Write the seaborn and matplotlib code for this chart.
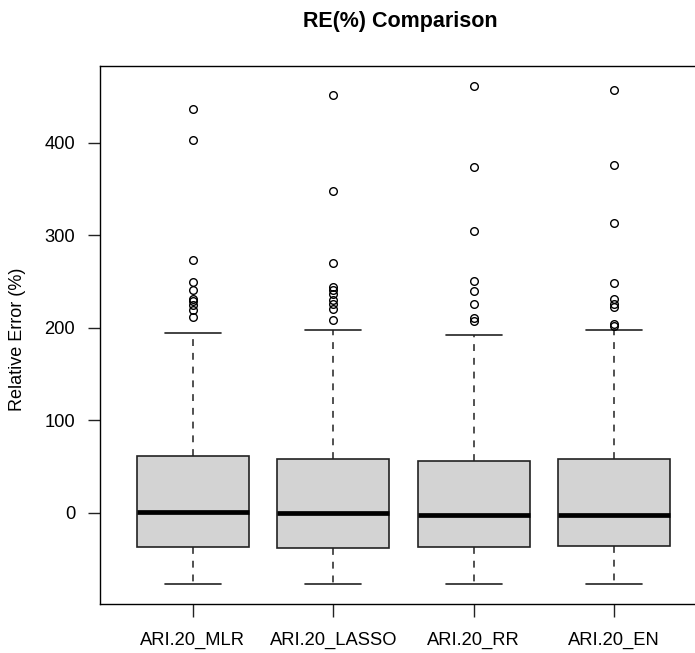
import numpy as np
import pandas as pd
import matplotlib
matplotlib.use("Agg")
import matplotlib.pyplot as plt
import seaborn as sns

# ---- values ----
categories = ["ARI.20_MLR", "ARI.20_LASSO", "ARI.20_RR", "ARI.20_EN"]
whisker_low = [-76.9, -76.9, -76.9, -76.9]
q1 = [-37.0, -38.5, -37.0, -35.6]
median = [1.4, 0.0, -1.8, -1.8]
q3 = [61.8, 58.2, 56.4, 57.9]
whisker_high = [194.5, 198.0, 192.5, 197.3]
outliers_mlr = [436.3, 402.9, 272.8, 249.4, 240.4, 231.5, 228.9, 224.3, 219.6, 211.7]
outliers_lasso = [451.8, 348.2, 269.9, 244.0, 241.2, 236.9, 230.4, 225.3, 220.7, 208.1]
outliers_rr = [461.5, 373.4, 304.4, 250.1, 239.7, 226.1, 210.6, 207.4]
outliers_en = [456.8, 376.3, 313.0, 248.3, 231.5, 226.1, 222.4, 204.5, 202.4]
outliers = [outliers_mlr, outliers_lasso, outliers_rr, outliers_en]
yticks = [0, 100, 200, 300, 400]

# Build samples that reproduce the read summary statistics exactly
B = 100
rows = []
for i, cat in enumerate(categories):
    vals = ([whisker_low[i]] + [q1[i]] * B + [median[i]] * B + [q3[i]] * B
            + [whisker_high[i]] + list(outliers[i]))
    rows += [(cat, v) for v in vals]
df = pd.DataFrame(rows, columns=["model", "re"])

sns.set_style("white")
plt.rcParams["font.family"] = ["Liberation Sans", "DejaVu Sans"]
plt.rcParams["text.color"] = "black"

fig = plt.figure(figsize=(6.95, 6.53), dpi=100)
ax = fig.add_axes([100 / 695, 49 / 653, 607 / 695, 538 / 653])

sns.boxplot(
    data=df, x="model", y="re", order=categories, ax=ax,
    color="#D3D3D3", saturation=1, width=0.8, linecolor="#222222", linewidth=1.2,
    whis=1.5,
    whiskerprops=dict(linestyle=(0, (4.5, 4.5)), linewidth=1.1),
    medianprops=dict(color="black", linewidth=3.4, solid_capstyle="butt"),
    flierprops=dict(marker="o", markerfacecolor="none", markeredgecolor="black",
                    markersize=5.5, markeredgewidth=1.0),
)

ax.set_xlim(-0.66, 3.66)
ax.set_ylim(-98.5, 483)
ax.set_yticks(yticks)
ax.set_yticklabels([str(t) for t in yticks])
ax.tick_params(axis="both", which="both", direction="out", length=9, width=1,
               color="#222222", labelsize=13.2, labelcolor="black", left=True, bottom=True)
ax.tick_params(axis="y", pad=9)
ax.tick_params(axis="x", pad=11)
for s in ax.spines.values():
    s.set_color("black")
    s.set_linewidth(1.0)
    s.set_visible(True)

ax.set_xlabel("")
ax.set_ylabel("Relative Error (%)", fontsize=13, color="black")
ax.yaxis.set_label_coords((18 - 100) / 607, (604 - 339) / 538)
ax.yaxis.label.set_va("center")
fig.text(400 / 695, 1 - 22 / 653, "RE(%) Comparison", ha="center", va="center",
         fontsize=15.5, fontweight="bold", color="black")

fig.savefig("out.png", dpi=100)
